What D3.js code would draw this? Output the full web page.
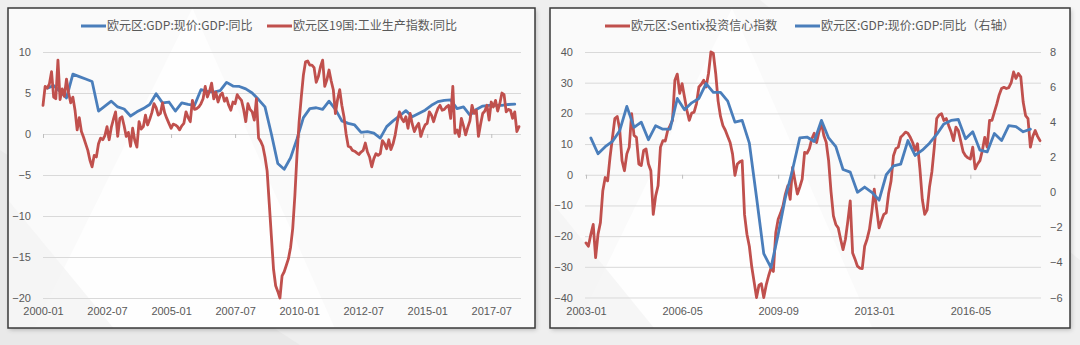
<!DOCTYPE html>
<html>
<head>
<meta charset="utf-8">
<script src="https://cdn.jsdelivr.net/npm/d3@7"></script>
<style>
  html, body { margin: 0; padding: 0; background: #efefef; }
  svg { display: block; }
</style>
</head>
<body>
<svg id="chart" width="1080" height="345"></svg>
<script>
// ---------- Left chart: euro area nominal GDP y/y vs. EA19 industrial production y/y ----------
const leftStart = "2000-01";
const leftTickLabels = ["2000-01", "2002-07", "2005-01", "2007-07", "2010-01", "2012-07", "2015-01", "2017-07"];
const leftYTicks = [-20, -15, -10, -5, 0, 5, 10];
const leftSeriesNames = ["欧元区:GDP:现价:GDP:同比", "欧元区19国:工业生产指数:同比"];

// quarterly, first value at 2000-03, one value every 3 months
const leftGdpFirst = "2000-03";
const leftGdp = [
  5.6, 5.9, 5.2, 4.4, 7.3, 7.0, 6.7, 6.4, 2.8, 3.4, 4.0, 3.3,
  3.05, 2.2, 2.7, 3.1, 3.6, 4.9, 3.8, 3.9, 2.8, 3.8, 3.6, 3.5,
  5.4, 5.2, 5.1, 5.3, 6.3, 5.85, 5.8, 5.5, 5.0, 4.2, 3.3, 0.0,
  -3.6, -4.3, -2.9, -0.6, 2.0, 3.1, 3.2, 3.0, 4.0, 3.0, 1.6, 1.3,
  1.1, 0.2, 0.3, 0.1, -0.5, 0.9, 1.6, 2.2, 2.85, 2.1, 2.5, 2.9,
  3.5, 3.95, 4.1, 4.15, 3.1, 3.3, 2.3, 3.0, 3.4, 3.5, 3.5, 3.5,
  3.6, 3.65
];

// monthly, 2000-01 .. 2018-08
const leftIp = [
  3.5, 5.8, 5.6, 6.1, 7.6, 4.5, 4.3, 9.0, 4.2, 5.5, 4.6, 6.7,
  5.0, 3.8, 4.5, 2.9, 0.5, 2.0, 0.3, -0.4, -1.2, -2.0, -3.2, -4.0,
  -2.6, -2.8, -1.2, -0.5, -0.7, -0.2, 0.9, -0.7, 0.8, 1.8, 2.7, -0.3,
  1.9, 2.1, 1.0, -0.3, 0.2, -1.5, 0.7, -0.8, -1.6, 1.5, 0.6, 0.9,
  2.3, 1.1, 1.8, 2.6, 3.7, 3.2, 2.3, 2.5, 3.8, 2.6, 1.9, 1.3,
  0.7, 1.2, 1.1, 0.9, 0.5, 1.0, 1.3, 2.7, 2.0, 1.5, 4.1, 3.0,
  3.1, 3.3, 3.7, 4.3, 5.8, 4.5, 5.2, 6.2, 4.3, 5.1, 3.9, 4.7,
  5.0, 4.0, 4.4, 3.5, 2.9, 3.9, 3.7, 4.8, 4.4, 4.1, 3.0, 1.5,
  3.7, 3.0, 2.7, 1.7, 4.3, -0.5, -0.9, -1.5, -2.8, -4.5, -8.5, -12.5,
  -16.5, -18.5, -19.2, -20.0, -17.3, -16.8, -16.0, -15.2, -13.8, -11.5, -7.5, -2.5,
  1.5, 4.5, 7.2, 8.8, 8.9, 8.4, 8.4, 8.1, 6.3, 7.0, 8.2, 9.0,
  5.8, 6.6, 7.8, 6.5, 5.4, 2.5, 4.2, 5.4, 3.5, 2.1, 0.0, -1.5,
  -1.6, -2.0, -2.1, -2.3, -2.5, -2.2, -2.0, -1.1, -2.2, -2.8, -4.0, -3.0,
  -2.4, -2.6, -2.4, -0.8, -1.2, -1.8, -0.7, -1.9, -1.2, -0.1, 1.5, 2.7,
  1.9, 1.5, 2.1, 0.7, 2.5, 1.2, 0.3, 0.9, 1.3, -0.3, 0.5, 1.1,
  1.3, 2.7, 2.3, 1.5, 2.4, 3.1, 3.5, 2.9, 3.0, 3.3, 3.5, 1.9,
  5.8, 0.1, 0.5, -0.3, 1.9, 1.0, -0.1, 0.8, 1.6, 3.5, 2.5, 2.9,
  -0.3, 1.2, 2.5, 2.8, 3.5, 1.7, 3.9, 3.3, 4.1, 2.8, 3.7, 5.0,
  4.8, 2.7, 3.0, 2.9, 1.9, 2.7, 0.3, 0.9
];

// ---------- Right chart: Sentix investor confidence vs. nominal GDP y/y (right axis) ----------
const rightStart = "2003-01";
const rightTickLabels = ["2003-01", "2006-05", "2009-09", "2013-01", "2016-05"];
const rightYTicksLeft = [-40, -30, -20, -10, 0, 10, 20, 30, 40];
const rightYTicksRight = [-6, -4, -2, 0, 2, 4, 6, 8];
const rightSeriesNames = ["欧元区:Sentix投资信心指数", "欧元区:GDP:现价:GDP:同比（右轴）"];

// monthly, 2003-01 .. 2018-10
const sentix = [
  -22.2, -23.3, -19.5, -16.2, -27.0, -19.4, -15.6, -5.2, -0.9, -2.0, 5.7, 12.0,
  18.3, 19.0, 15.0, 4.6, 1.3, 6.8, 9.0, 19.9, 12.8, 12.2, 3.5, 3.0,
  7.9, 8.4, 3.5, 1.3, -12.9, -6.9, -3.6, 9.0, 11.1, 11.0, 14.4, 16.0,
  17.7, 30.8, 32.8, 26.5, 29.7, 25.3, 21.0, 17.7, 20.1, 20.4, 23.2, 28.6,
  29.5, 30.8, 28.6, 33.0, 40.0, 39.6, 33.0, 24.0, 19.0, 16.0, 14.5, 12.5,
  10.5, 6.8, -0.2, 3.5, 4.2, 4.6, -13.0, -19.4, -23.3, -30.0, -35.0, -40.0,
  -36.0, -35.5, -40.0, -36.0, -33.0, -30.4, -31.5, -18.9, -14.5, -12.5, -10.2, -6.3,
  -3.6, -8.0, 2.4, -2.0, -6.3, -4.0, -1.4, 7.3, 7.0, 8.5, 11.7, 13.5,
  10.5, 14.0, 17.0, 12.8, 10.6, 4.6, -5.5, -13.4, -16.2, -17.3, -21.0, -24.4,
  -21.0, -15.1, -8.5, -25.5, -27.5, -29.8, -30.4, -30.6, -23.3, -21.0, -17.8, -12.0,
  -4.7, -11.2, -17.3, -15.0, -12.9, -12.4, -6.0, -2.0, 6.2, 8.5, 9.0, 12.2,
  13.0, 13.9, 13.5, 12.2, 10.5, 7.9, 10.1, 2.0, -8.0, -12.9, -11.5, -4.0,
  1.0, 9.0, 18.3, 19.5, 19.9, 17.7, 18.3, 16.0, 13.9, 11.1, 15.5, 14.4,
  11.0, 7.5, 6.2, 5.5, 5.1, 9.0, 1.9, 3.5, 4.6, 7.9, 12.2, 9.0,
  17.7, 17.7, 20.4, 23.0, 26.0, 28.1, 28.5, 28.1, 28.4, 30.0, 33.5, 31.4,
  33.0, 31.9, 23.7, 19.3, 18.3, 9.0, 12.5, 14.4, 12.5, 11.1
];

// quarterly, first value at 2003-03
const rightGdpFirst = "2003-03";
const rightGdp = [
  3.1, 2.2, 2.6, 2.9, 3.5, 4.9, 3.7, 4.0, 3.0, 3.8, 3.6, 3.6,
  5.35, 4.7, 5.1, 5.35, 6.2, 5.7, 5.7, 5.2, 4.0, 4.1, 2.8, -0.3,
  -3.5, -4.3, -2.4, -0.3, 1.3, 3.1, 3.15, 2.9, 4.1, 3.1, 2.6, 1.3,
  1.15, 0.0, 0.3, 0.0, -0.45, 1.0, 1.5, 1.6, 2.95, 2.1, 2.4, 2.8,
  3.3, 3.9, 4.1, 4.15, 3.05, 3.45, 2.4, 2.3, 3.35, 2.95, 3.8, 3.75,
  3.45, 3.6
];

// ---------- helpers ----------
const BLUE = "#4a7ebb";
const RED = "#c0504d";
const TEXT = "#595959";
const GRID = "#d9d9d9";

function monthsBetween(from, to) {
  const [y0, m0] = from.split("-").map(Number);
  const [y1, m1] = to.split("-").map(Number);
  return (y1 - y0) * 12 + (m1 - m0);
}
const monthly = (vals) => vals.map((v, i) => ({ m: i, v }));
const quarterly = (vals, offset) => vals.map((v, i) => ({ m: offset + i * 3, v }));

const svg = d3.select("#chart");
const defs = svg.append("defs");
const shadow = defs.append("filter").attr("id", "shadow")
  .attr("x", "-5%").attr("y", "-5%").attr("width", "110%").attr("height", "115%");
shadow.append("feDropShadow").attr("dx", 1.5).attr("dy", 2).attr("stdDeviation", 2)
  .attr("flood-color", "#000").attr("flood-opacity", 0.22);

// page backdrop with soft diagonal facets
svg.append("rect").attr("width", 1080).attr("height", 345).attr("fill", "#efefef");
const facets = svg.append("g");
facets.append("path").attr("d", "M0,345 L0,150 L300,345 Z").attr("fill", "#e9e9e9");
facets.append("path").attr("d", "M1080,0 L760,0 L1080,260 Z").attr("fill", "#f6f6f6");

function panel(frame) {
  const g = svg.append("g");
  g.append("rect")
    .attr("x", frame.x).attr("y", frame.y).attr("width", frame.w).attr("height", frame.h)
    .attr("fill", "#fafafa").attr("filter", "url(#shadow)");
  // subtle light facets inside the panel
  const clipId = "clip" + frame.x;
  defs.append("clipPath").attr("id", clipId).append("rect")
    .attr("x", frame.x).attr("y", frame.y).attr("width", frame.w).attr("height", frame.h);
  const f = g.append("g").attr("clip-path", `url(#${clipId})`);
  f.append("path")
    .attr("d", `M${frame.x + frame.w * 0.35},${frame.y} L${frame.x + frame.w * 0.62},${frame.y + frame.h} L${frame.x + frame.w * 0.05},${frame.y + frame.h} Z`)
    .attr("fill", "#ffffff").attr("opacity", 0.7);
  f.append("path")
    .attr("d", `M${frame.x},${frame.y + frame.h * 0.6} L${frame.x + frame.w * 0.2},${frame.y + frame.h} L${frame.x},${frame.y + frame.h} Z`)
    .attr("fill", "#f4f4f4").attr("opacity", 0.8);
  return g;
}
function frameBorder(frame) {
  svg.append("rect")
    .attr("x", frame.x).attr("y", frame.y).attr("width", frame.w).attr("height", frame.h)
    .attr("fill", "none").attr("stroke", "#3a3a3a").attr("stroke-width", 1.5);
}

function styleAxisText(sel) {
  sel.selectAll("text")
    .attr("fill", TEXT)
    .style("font-family", "'Liberation Sans', Arial, sans-serif")
    .style("font-size", "11px");
  sel.select(".domain").remove();
}

function legendItem(x, y, color, label) {
  svg.append("line").attr("x1", x).attr("x2", x + 25).attr("y1", y).attr("y2", y)
    .attr("stroke", color).attr("stroke-width", 3);
  svg.append("text").attr("x", x + 26).attr("y", y).attr("dy", "0.35em")
    .attr("fill", TEXT)
    .style("font-family", "'Noto Sans CJK SC', sans-serif")
    .style("font-size", "12px")
    .text(label);
}

function drawLine(data, x, y, color) {
  const line = d3.line().x(d => x(d.m)).y(d => y(d.v));
  svg.append("path").datum(data)
    .attr("fill", "none").attr("stroke", color).attr("stroke-width", 2.8)
    .attr("stroke-linejoin", "round").attr("stroke-linecap", "round")
    .attr("d", line);
}

// ================= Left chart =================
const leftFrame = { x: 8, y: 8, w: 527, h: 320 };
panel(leftFrame);

const lx = d3.scaleLinear().domain([0, leftIp.length - 1]).range([43, 519]);
const ly = d3.scaleLinear().domain([-20, 10]).range([298, 52]);

// horizontal gridlines
svg.append("g").attr("transform", "translate(43,0)")
  .call(d3.axisLeft(ly).tickValues(leftYTicks).tickSize(-478).tickFormat(""))
  .call(g => g.select(".domain").remove())
  .call(g => g.selectAll("line").attr("stroke", GRID));

// y labels
svg.append("g").attr("transform", "translate(31,0)")
  .call(d3.axisLeft(ly).tickValues(leftYTicks).tickSize(0).tickPadding(0))
  .call(styleAxisText)
  .call(g => g.selectAll("line").remove());

const leftTickMonths = leftTickLabels.map(l => monthsBetween(leftStart, l));
// category axis tick marks on the zero line
svg.append("g").attr("transform", `translate(0,${ly(0)})`)
  .call(d3.axisBottom(lx).tickValues(leftTickMonths).tickSize(4).tickFormat(""))
  .call(g => g.select(".domain").remove())
  .call(g => g.selectAll("line").attr("stroke", "#bfbfbf"));
// date labels along the bottom
svg.append("g").attr("transform", "translate(0,302)")
  .call(d3.axisBottom(lx).tickValues(leftTickMonths).tickSize(0).tickPadding(5)
    .tickFormat((d, i) => leftTickLabels[i]))
  .call(styleAxisText);

drawLine(quarterly(leftGdp, monthsBetween(leftStart, leftGdpFirst)), lx, ly, BLUE);
drawLine(monthly(leftIp), lx, ly, RED);

legendItem(81, 26, BLUE, leftSeriesNames[0]);
legendItem(267, 26, RED, leftSeriesNames[1]);
frameBorder(leftFrame);

// ================= Right chart =================
const rightFrame = { x: 550, y: 8, w: 520, h: 320 };
panel(rightFrame);

const rx = d3.scaleLinear().domain([0, sentix.length - 1]).range([586, 1040]);
const ryL = d3.scaleLinear().domain([-40, 40]).range([297.5, 52]);
const ryR = d3.scaleLinear().domain([-6, 8]).range([297.5, 52]);

svg.append("g").attr("transform", "translate(585,0)")
  .call(d3.axisLeft(ryL).tickValues(rightYTicksLeft).tickSize(-456).tickFormat(""))
  .call(g => g.select(".domain").remove())
  .call(g => g.selectAll("line").attr("stroke", GRID));

svg.append("g").attr("transform", "translate(573,0)")
  .call(d3.axisLeft(ryL).tickValues(rightYTicksLeft).tickSize(0).tickPadding(0))
  .call(styleAxisText)
  .call(g => g.selectAll("line").remove());

svg.append("g").attr("transform", "translate(1050,0)")
  .call(d3.axisRight(ryR).tickValues(rightYTicksRight).tickSize(0).tickPadding(0))
  .call(styleAxisText)
  .call(g => g.selectAll("line").remove());

const rightTickMonths = rightTickLabels.map(l => monthsBetween(rightStart, l));
svg.append("g").attr("transform", `translate(0,${ryL(0)})`)
  .call(d3.axisBottom(rx).tickValues(rightTickMonths).tickSize(4).tickFormat(""))
  .call(g => g.select(".domain").remove())
  .call(g => g.selectAll("line").attr("stroke", "#bfbfbf"));
svg.append("g").attr("transform", "translate(0,302)")
  .call(d3.axisBottom(rx).tickValues(rightTickMonths).tickSize(0).tickPadding(5)
    .tickFormat((d, i) => rightTickLabels[i]))
  .call(styleAxisText);

drawLine(monthly(sentix), rx, ryL, RED);
drawLine(quarterly(rightGdp, monthsBetween(rightStart, rightGdpFirst)), rx, ryR, BLUE);

legendItem(605, 26, RED, rightSeriesNames[0]);
legendItem(795, 26, BLUE, rightSeriesNames[1]);
frameBorder(rightFrame);
</script>
</body>
</html>
